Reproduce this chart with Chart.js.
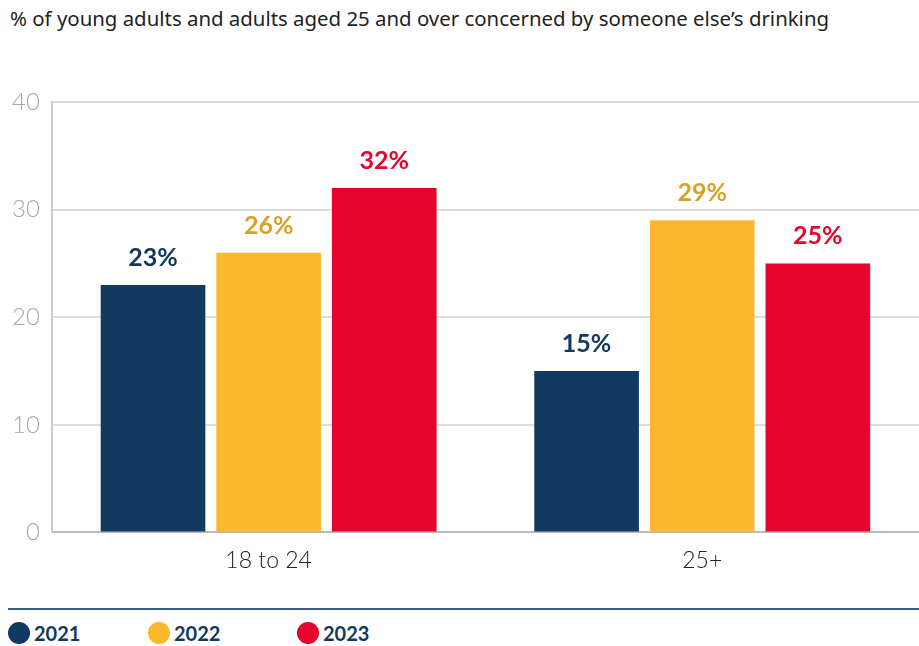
<!DOCTYPE html>
<html lang="en">
  <head>
    <meta charset="UTF-8" />
    <title>Concerned by someone else's drinking</title>
    <script src="https://cdn.jsdelivr.net/npm/chart.js"></script>
    <style>
      body {
        margin: 0;
        background: #fff;
        font-family: Lato, "Open Sans", sans-serif;
        color: #222;
      }
      #title {
        position: absolute;
        left: 10px;
        top: 4px;
        font-family: "Noto Sans", sans-serif;
        font-size: 20.4px;
      }
      #chart-box {
        position: absolute;
        left: 0;
        top: 0;
        width: 919px;
        height: 590px;
      }
      #separator {
        position: absolute;
        left: 8px;
        top: 608px;
        width: 911px;
        height: 2px;
        background: #3b5f80;
      }
      #legend {
        position: absolute;
        left: 8px;
        top: 621px;
        display: flex;
      }
      .item {
        display: flex;
        align-items: center;
        font-weight: bold;
        font-size: 20px;
        color: #123a60;
      }
      .dot {
        width: 22px;
        height: 22px;
        border-radius: 50%;
        margin-right: 4px;
      }
    </style>
  </head>
  <body>
    <div id="title">% of young adults and adults aged 25 and over concerned by someone else’s drinking</div>
    <div id="chart-box"><canvas id="chart"></canvas></div>
    <div id="separator"></div>
    <div id="legend"></div>

    <script>
      // chart data
      const categories = ["18 to 24", "25+"];
      const years = ["2021", "2022", "2023"];
      const values2021 = [23, 15];
      const values2022 = [26, 29];
      const values2023 = [32, 25];
      const yTicks = [0, 10, 20, 30, 40];

      const barColors = ["#123a60", "#fbb82c", "#e4042c"];
      const labelColors = ["#123a60", "#d9a126", "#e4042c"];

      // draw the "23%" labels above each bar
      const valueLabels = {
        id: "valueLabels",
        afterDatasetsDraw(chart) {
          const ctx = chart.ctx;
          ctx.save();
          ctx.font = "bold 25px Lato, sans-serif";
          ctx.textAlign = "center";
          ctx.textBaseline = "middle";
          chart.data.datasets.forEach((ds, i) => {
            chart.getDatasetMeta(i).data.forEach((bar, j) => {
              ctx.fillStyle = labelColors[i];
              ctx.fillText(ds.data[j] + "%", bar.x, bar.y - 27);
            });
          });
          ctx.restore();
        },
      };

      const seriesValues = [values2021, values2022, values2023];

      const chart = new Chart(document.getElementById("chart"), {
        type: "bar",
        data: {
          labels: categories,
          datasets: years.map((y, i) => ({
            label: y,
            data: seriesValues[i],
            backgroundColor: barColors[i],
            categoryPercentage: 0.8,
            barPercentage: 0.905,
          })),
        },
        options: {
          responsive: true,
          maintainAspectRatio: false,
          animation: false,
          layout: { padding: { left: 0, top: 102, right: 0, bottom: 2 } },
          plugins: {
            legend: { display: false },
            tooltip: { enabled: false },
          },
          scales: {
            x: {
              grid: { display: false, drawTicks: false },
              border: { color: "#bbb", width: 2 },
              ticks: {
                color: "#222",
                padding: 14,
                font: { family: "Lato", size: 23, weight: "300" },
              },
            },
            y: {
              min: 0,
              max: 40,
              afterBuildTicks: (axis) => {
                axis.ticks = yTicks.map((v) => ({ value: v }));
              },
              grid: { color: "#dddddd", lineWidth: 2, drawTicks: false },
              border: { color: "#cccccc", width: 2 },
              ticks: {
                color: "#a6a6a6",
                padding: 12,
                font: { family: "Lato", size: 24, weight: "300" },
              },
            },
          },
        },
        plugins: [valueLabels],
      });

      // html legend built from the datasets
      const legend = document.getElementById("legend");
      const itemWidths = [140, 149, 120];
      chart.data.datasets.forEach((ds, i) => {
        const item = document.createElement("div");
        item.className = "item";
        item.style.width = itemWidths[i] + "px";
        item.innerHTML =
          '<span class="dot" style="background:' + ds.backgroundColor + '"></span>' + ds.label;
        legend.appendChild(item);
      });
    </script>
  </body>
</html>
